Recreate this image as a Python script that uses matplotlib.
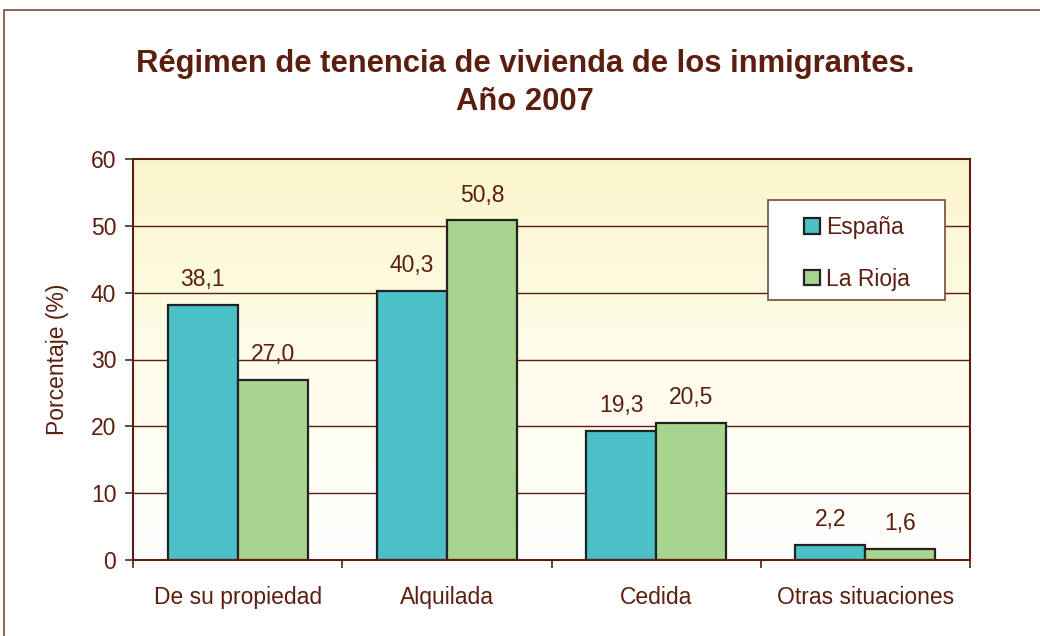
import numpy as np
import matplotlib
matplotlib.use("Agg")
import matplotlib.pyplot as plt
from matplotlib.patches import Rectangle
from matplotlib.colors import LinearSegmentedColormap

categories = ["De su propiedad", "Alquilada", "Cedida", "Otras situaciones"]
espana = [38.1, 40.3, 19.3, 2.2]
la_rioja = [27.0, 50.8, 20.5, 1.6]
series_names = ["España", "La Rioja"]
yticks = [0, 10, 20, 30, 40, 50, 60]

brown = "#5C1E0E"
c_esp = "#4BC1C7"
c_rio = "#A8D58E"
fs = 16.5

plt.rcParams['font.family'] = ['Liberation Sans', 'DejaVu Sans']

fig = plt.figure(figsize=(10.4, 6.36), dpi=100)
W, H = 1040, 636
ax = fig.add_axes([133 / W, 1 - 560 / H, (970 - 133) / W, (560 - 159) / H])

# figure border
fig.patches.append(Rectangle((4 / W, -0.1), 1.2, 1 - 10 / H + 0.1, transform=fig.transFigure,
                             fill=False, edgecolor="#7A4A3A", linewidth=1.2, zorder=-1))

# gradient background
grad = np.linspace(0, 1, 256).reshape(-1, 1)
cmap = LinearSegmentedColormap.from_list("bg", ["#FFFFFF", "#FEFCEA", "#FCF6CC"])
ax.imshow(grad, extent=[-0.5, 3.5, 0, 60], origin="lower", aspect="auto", cmap=cmap, zorder=0)

x = np.arange(len(categories))
bw = 0.335
b1 = ax.bar(x - bw / 2, espana, bw, color=c_esp, edgecolor="#222222", linewidth=1.6, zorder=3, label=series_names[0])
b2 = ax.bar(x + bw / 2, la_rioja, bw, color=c_rio, edgecolor="#222222", linewidth=1.6, zorder=3, label=series_names[1])

for bars, vals in ((b1, espana), (b2, la_rioja)):
    for b, v in zip(bars, vals):
        ax.annotate(f"{v:.1f}".replace(".", ","), (b.get_x() + b.get_width() / 2, v),
                    xytext=(0, 10), textcoords="offset points", ha="center", va="bottom",
                    fontsize=fs, color=brown, zorder=5)

ax.set_xlim(-0.5, 3.5)
ax.set_ylim(0, 60)
ax.set_yticks(yticks)
ax.set_yticklabels([str(t) for t in yticks])
for t in yticks[1:-1]:
    ax.axhline(t, color=brown, linewidth=1.0, zorder=1)

ax.set_xticks(x)
ax.set_xticklabels(categories)
ax.set_xticks(np.arange(-0.5, 3.6, 1), minor=True)
ax.tick_params(axis="x", which="major", length=0, pad=19, labelsize=fs, labelcolor=brown)
ax.tick_params(axis="x", which="minor", length=6, width=1.2, color=brown, direction="out")
ax.tick_params(axis="y", length=6, width=1.2, color="#333333", labelsize=fs, labelcolor=brown, pad=6)

for s in ax.spines.values():
    s.set_color(brown)
    s.set_linewidth(1.5)
    s.set_zorder(4)

ax.set_ylabel("Porcentaje (%)", fontsize=fs, color=brown, labelpad=16)

# legend frame box
ax.add_patch(Rectangle((768 / W, 1 - 300 / H), 177 / W, 100 / H, transform=fig.transFigure,
                       facecolor="white", edgecolor="#7A4A3A", linewidth=1.2, zorder=5, clip_on=False))
leg = ax.legend(loc="upper left", bbox_to_anchor=(804 / W, 1 - 216 / H), bbox_transform=fig.transFigure,
                frameon=False, fontsize=fs, labelcolor=brown,
                handlelength=0.68, handleheight=0.68, handletextpad=0.3, labelspacing=1.25,
                borderpad=0, borderaxespad=0)
leg.set_zorder(6)

fig.text(525 / W, 1 - 83 / H, "Régimen de tenencia de vivienda de los inmigrantes.\nAño 2007",
         ha="center", va="center", fontsize=22.3, fontweight="bold", color=brown, linespacing=1.35)

fig.savefig("out.png", dpi=100)
